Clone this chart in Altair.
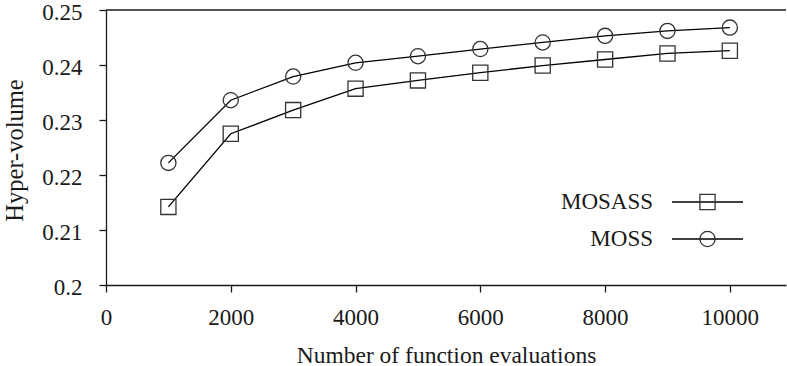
import altair as alt
import pandas as pd

# ---- data ----
evals = [1000, 2000, 3000, 4000, 5000, 6000, 7000, 8000, 9000, 10000]
mosass = [0.2142, 0.2275, 0.2318, 0.2357, 0.2372, 0.2386, 0.2399, 0.2410, 0.2421, 0.2426]
moss = [0.2222, 0.2336, 0.2379, 0.2404, 0.2416, 0.2429, 0.2441, 0.2453, 0.2462, 0.2468]
series_names = ["MOSASS", "MOSS"]
series_shapes = ["square", "circle"]
x_ticks = [0, 2000, 4000, 6000, 8000, 10000]
y_ticks = [0.2, 0.21, 0.22, 0.23, 0.24, 0.25]
x_domain = [0, 10900]
y_domain = [0.2, 0.25]

df = pd.DataFrame({
    "evals": evals * 2,
    "hv": mosass + moss,
    "series": [series_names[0]] * len(evals) + [series_names[1]] * len(evals),
})

FONT = "Liberation Serif"
INK = "#1a1a1a"
W, H = 680, 275

x = alt.X(
    "evals:Q",
    scale=alt.Scale(domain=x_domain, nice=False, zero=False),
    axis=alt.Axis(
        values=x_ticks, format="d", title="Number of function evaluations",
        labelBaseline="alphabetic", labelPadding=32, labelFlush=False,
        titleBaseline="alphabetic", titleY=77, titleFontSize=23.5,
    ),
)
y = alt.Y(
    "hv:Q",
    scale=alt.Scale(domain=y_domain, nice=False, zero=False),
    axis=alt.Axis(
        values=y_ticks, format="~g", title="Hyper-volume",
        labelPadding=17, labelFlush=False, labelOffset=2,
        titleBaseline="alphabetic", titleX=-84, titleY=140, titleFontSize=24.5,
    ),
)

base = alt.Chart(df)

lines = base.mark_line(color="black", strokeWidth=1.3).encode(x=x, y=y, detail="series:N")
points = base.mark_point(filled=False, size=230, strokeWidth=1.3, color="#333333", opacity=1).encode(
    x=x, y=y,
    shape=alt.Shape("series:N", scale=alt.Scale(domain=series_names, range=series_shapes), legend=None),
)

frame_top = alt.Chart(pd.DataFrame({"k": [0]})).mark_rule(color=INK, strokeWidth=1.3).encode(
    x=alt.datum(x_domain[0]), x2=alt.datum(x_domain[1]), y=alt.datum(y_domain[1])
)

# ---- manual legend (labels on the left, line + marker on the right) ----
legend_layers = []
leg_rows = [192, 229]
for name, shape, ly in zip(series_names, series_shapes, leg_rows):
    d = pd.DataFrame({"label": [name]})
    legend_layers.append(
        alt.Chart(d).mark_text(align="right", baseline="middle", font=FONT, fontSize=23, color=INK).encode(
            text="label:N", x=alt.value(547), y=alt.value(ly)
        )
    )
    legend_layers.append(
        alt.Chart(d).mark_rule(color="black", strokeWidth=1.3).encode(
            x=alt.value(566), x2=alt.value(637), y=alt.value(ly)
        )
    )
    legend_layers.append(
        alt.Chart(d).mark_point(shape=shape, filled=False, size=230, strokeWidth=1.3, color="#333333", opacity=1).encode(
            x=alt.value(601.5), y=alt.value(ly)
        )
    )

chart = alt.layer(frame_top, lines, points, *legend_layers).properties(
    width=W, height=H,
    autosize=alt.AutoSizeParams(type="none"),
    padding={"left": 106, "top": 10, "right": 1, "bottom": 81},
    background="white",
).configure_view(stroke=None).configure_axis(
    grid=False,
    domainColor=INK, domainWidth=1.3,
    tickColor=INK, tickWidth=1.3, tickSize=7,
    labelFont=FONT, labelFontSize=23, labelColor=INK,
    titleFont=FONT, titleFontSize=23, titleFontWeight="normal", titleColor=INK,
)

chart.save("out.html", embed_options={"renderer": "svg", "actions": False})
